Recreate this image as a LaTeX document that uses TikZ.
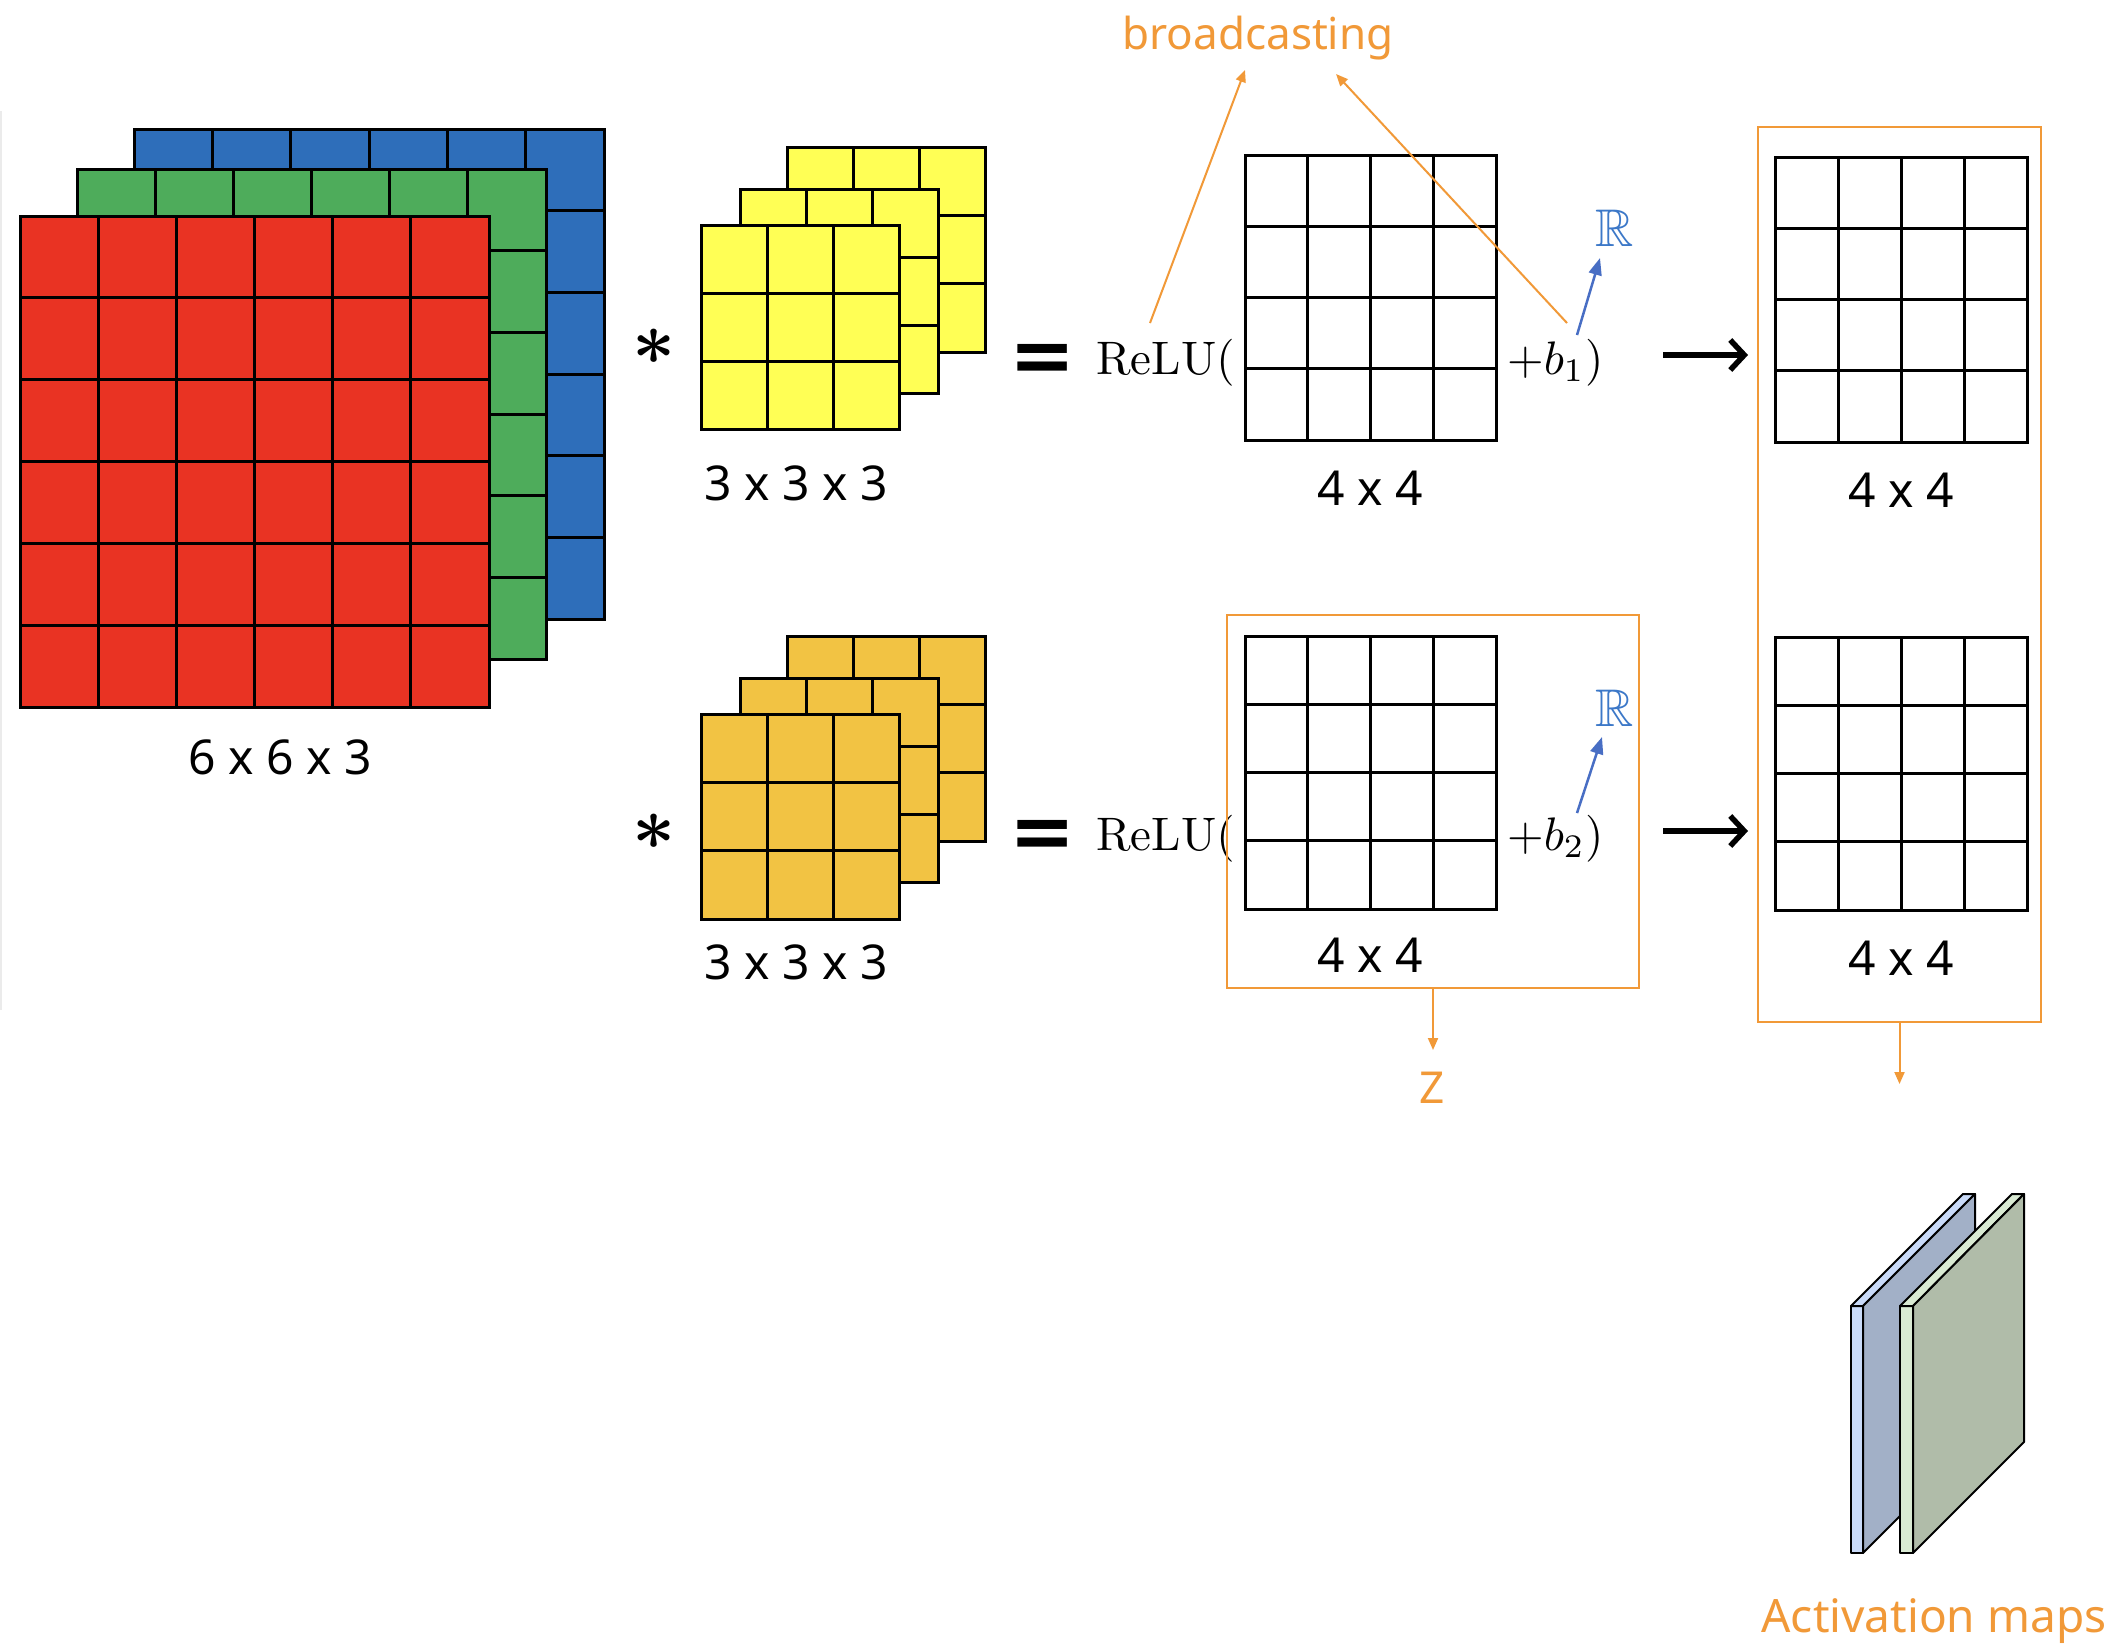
\documentclass[tikz,border=0pt]{standalone}
\usepackage{fontspec}
\usepackage{amssymb}
\usepackage{graphicx}
\usetikzlibrary{arrows.meta}
\newfontfamily\lblfont{Noto Sans}
\newfontfamily\djvfont{DejaVu Sans}
\definecolor{cred}{RGB}{233,51,35}
\definecolor{cgreen}{RGB}{78,172,91}
\definecolor{cblue}{RGB}{46,110,186}
\definecolor{cyellow}{RGB}{255,255,85}
\definecolor{cgold}{RGB}{242,195,67}
\definecolor{orng}{RGB}{241,153,56}
\definecolor{rblue}{RGB}{60,120,200}
\definecolor{ablue}{RGB}{72,110,196}
\definecolor{slabA}{RGB}{201,218,248}
\definecolor{slabAf}{RGB}{162,176,199}
\definecolor{slabB}{RGB}{217,234,211}
\definecolor{slabBf}{RGB}{176,188,169}
\newcommand\gpanel[8]{%
  \node[panel, fill=#8, minimum width={#4-#2}, minimum height={#5-#3}] (#1) at ({(#2+#4)/2},{(#3+#5)/2}) {};
  \pgfmathsetmacro\gdxx{(#4-#2)/#6}
  \pgfmathsetmacro\gdyy{(#5-#3)/#7}
  \foreach \i in {1,...,#6}{\draw[gridln] ({#2+\i*\gdxx},#3) -- ({#2+\i*\gdxx},#5);}
  \foreach \j in {1,...,#7}{\draw[gridln] (#2,{#3+\j*\gdyy}) -- (#4,{#3+\j*\gdyy});}
}
\begin{document}
\begin{tikzpicture}[x=1pt,y=-1pt,
  panel/.style={draw=black, line width=3pt, rectangle, inner sep=0pt, outer sep=0pt},
  gridln/.style={draw=black, line width=3pt},
  obox/.style={draw=orng, line width=2pt, rectangle, inner sep=0pt},
  lbl/.style={font={\lblfont\fontsize{48}{56}\selectfont}, inner sep=0pt},
  olbl/.style={text=orng, inner sep=0pt},
  mathlbl/.style={inner sep=0pt},
  oarrow/.style={draw=orng, line width=2pt, -{Triangle[length=12pt,width=10pt]}},
  barrow/.style={draw=ablue, line width=2.5pt, -{Triangle[length=17pt,width=13pt]}},
  karrow/.style={draw=black, line width=5.5pt, -{Straight Barb[length=14pt,width=30pt,line width=5.5pt]}},
  slab/.style={draw=black, line width=2pt, line join=round}
]
\fill[white] (0,0) rectangle (2116,1650);
\useasboundingbox (0,0) rectangle (2116,1650);
\draw[black!8, line width=2pt] (1,111) -- (1,1010);

% input volume 6x6x3
\gpanel{inB}{134}{129}{604}{619}{6}{6}{cblue}
\gpanel{inG}{77}{169}{546}{659}{6}{6}{cgreen}
\gpanel{inR}{20}{216}{489}{707}{6}{6}{cred}
\node[lbl, anchor=base] (inlbl) at (280,774) {6 x 6 x 3};

% filter 1
\gpanel{fa3}{787}{147}{985}{352}{3}{3}{cyellow}
\gpanel{fa2}{740}{189}{938}{393}{3}{3}{cyellow}
\gpanel{fa1}{701}{225}{899}{429}{3}{3}{cyellow}
\node[lbl, anchor=base] (falbl) at (796,500) {3 x 3 x 3};
% filter 2
\gpanel{fb3}{787}{636}{985}{841}{3}{3}{cgold}
\gpanel{fb2}{740}{678}{938}{882}{3}{3}{cgold}
\gpanel{fb1}{701}{714}{899}{919}{3}{3}{cgold}
\node[lbl, anchor=base] (fblbl) at (796,979) {3 x 3 x 3};

% operators
\node[inner sep=0pt] (ast1) at (654,347) {\scalebox{7.5}{\boldmath$\ast$}};
\node[inner sep=0pt] (ast2) at (654,832) {\scalebox{7.5}{\boldmath$\ast$}};
\node[inner sep=0pt, font={\djvfont\bfseries\fontsize{79}{80}\selectfont}] (eq1) at (1043,363) {=};
\node[inner sep=0pt, font={\djvfont\bfseries\fontsize{79}{80}\selectfont}] (eq2) at (1043,839) {=};

% ReLU rows
\node[mathlbl, anchor=base west] (relu1) at (1096,374) {\scalebox{4.7}{$\mathrm{ReLU}($}};
\node[mathlbl, anchor=base west] (relu2) at (1096,850) {\scalebox{4.7}{$\mathrm{ReLU}($}};
\gpanel{m1}{1245}{155}{1496}{440}{4}{4}{white}
\gpanel{m2}{1245}{636}{1496}{909}{4}{4}{white}
\node[mathlbl, anchor=base west] (bias1) at (1507,374) {\scalebox{4.7}{$+b_1)$}};
\node[mathlbl, anchor=base west] (bias2) at (1507,850) {\scalebox{4.7}{$+b_2)$}};
\node[lbl, anchor=base] (m1lbl) at (1370,505) {4 x 4};
\node[lbl, anchor=base] (m2lbl) at (1370,972) {4 x 4};

% R labels
\node[inner sep=0pt, text=rblue] (R1) at (1615,228) {\scalebox{5.3}{$\mathbb{R}$}};
\node[inner sep=0pt, text=rblue] (R2) at (1615,708) {\scalebox{5.3}{$\mathbb{R}$}};
\coordinate (b1s) at (1577,335);
\coordinate (b1e) at (1600,258);
\coordinate (b2s) at (1577,813);
\coordinate (b2e) at (1602,737);
\draw[barrow] (b1s) -- (b1e);
\draw[barrow] (b2s) -- (b2e);

% broadcasting
\node[olbl, anchor=base, font={\lblfont\fontsize{44}{50}\selectfont}] (bc) at (1258,49) {broadcasting};
\coordinate (bcA) at (1150,323);
\coordinate (bcAt) at (1245,70);
\coordinate (bcB) at (1567,323);
\coordinate (bcBt) at (1336,74);
\draw[oarrow] (bcA) -- (bcAt);
\draw[oarrow] (bcB) -- (bcBt);

% Z box
\node[obox, minimum width=412, minimum height=373] (zbox) at (1433,801.5) {};
\coordinate (zend) at (1433,1050);
\draw[oarrow] (zbox.south) -- (zend);
\node[olbl, font={\lblfont\fontsize{44}{50}\selectfont}] (zlbl) at (1432,1088) {Z};

% arrows to activations
\coordinate (k1s) at (1663,355);
\coordinate (k1e) at (1748,355);
\coordinate (k2s) at (1663,831);
\coordinate (k2e) at (1748,831);
\draw[karrow] (k1s) -- (k1e);
\draw[karrow] (k2s) -- (k2e);

% activation box
\node[obox, minimum width=283, minimum height=895] (abox) at (1899.5,574.5) {};
\gpanel{r1}{1775}{157}{2027}{442}{4}{4}{white}
\gpanel{r2}{1775}{637}{2027}{910}{4}{4}{white}
\node[lbl, anchor=base] (r1lbl) at (1901,507) {4 x 4};
\node[lbl, anchor=base] (r2lbl) at (1901,975) {4 x 4};
\coordinate (aend) at (1899.5,1084);
\draw[oarrow] (abox.south) -- (aend);

% activation maps slabs
\draw[slab, fill=slabA] (1851,1306) rectangle (1863,1553);
\draw[slab, fill=slabA] (1851,1306) -- (1863,1306) -- (1975,1194) -- (1963,1194) -- cycle;
\draw[slab, fill=slabAf] (1863,1306) -- (1975,1194) -- (1975,1441) -- (1863,1553) -- cycle;
\draw[slab, fill=slabB] (1900,1306) rectangle (1913,1553);
\draw[slab, fill=slabB] (1900,1306) -- (1913,1306) -- (2024,1194) -- (2012,1194) -- cycle;
\draw[slab, fill=slabBf] (1913,1306) -- (2024,1194) -- (2024,1442) -- (1913,1553) -- cycle;
\node[olbl, anchor=base, font={\lblfont\fontsize{46}{52}\selectfont}] (amlbl) at (1934,1632) {Activation maps};
\end{tikzpicture}
\end{document}
